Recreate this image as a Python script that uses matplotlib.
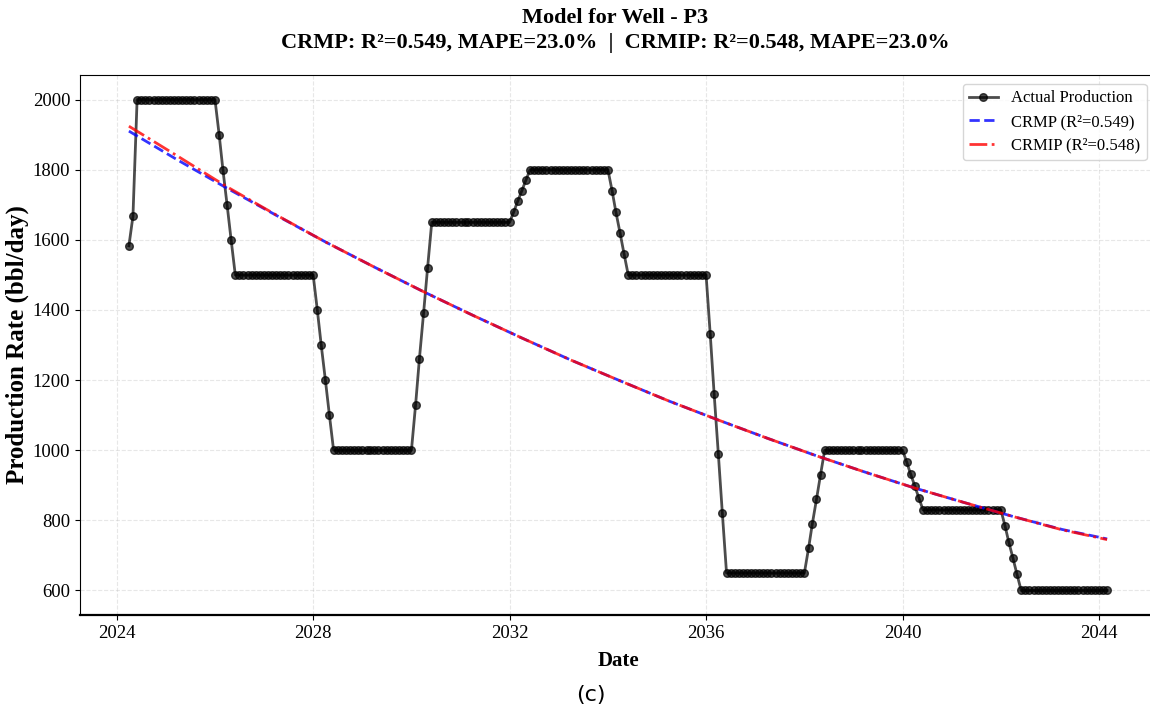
import matplotlib
matplotlib.use('Agg')
import matplotlib.pyplot as plt
import matplotlib.dates as mdates
import pandas as pd

# monthly production for well P3 (bbl/day)
start_date = '2024-03-31'
n_months = 240
actual = ([1583, 1667] + [2000] * 20 + [1900, 1800, 1700, 1600]
          + [1500] * 20 + [1400, 1300, 1200, 1100]
          + [1000] * 20 + [1130, 1260, 1390, 1520]
          + [1650] * 20 + [1680, 1710, 1740, 1770]
          + [1800] * 20 + [1740, 1680, 1620, 1560]
          + [1500] * 20 + [1330, 1160, 990, 820]
          + [650] * 20 + [720, 790, 860, 930]
          + [1000] * 20 + [966, 932, 898, 864]
          + [830] * 20 + [784, 738, 692, 646]
          + [600] * 22)

# model fits, sampled yearly (month index -> rate)
model_idx = [0, 12, 24, 36, 48, 60, 72, 84, 96, 108, 120,
             132, 144, 156, 168, 180, 192, 204, 216, 228, 239]
crmp = [1910, 1827, 1747, 1670, 1594, 1522, 1452, 1385, 1320, 1257, 1198,
        1140, 1086, 1034, 984, 937, 892, 851, 811, 774, 747]
crmip = [1924, 1838, 1751, 1671, 1594, 1522, 1452, 1385, 1320, 1257, 1198,
         1140, 1086, 1034, 984, 937, 892, 851, 811, 773, 745]

crmp_r2, crmip_r2 = 0.549, 0.548
crmp_mape, crmip_mape = 23.0, 23.0

dates = pd.date_range(start_date, periods=n_months, freq='ME')
model_dates = dates[model_idx]

SERIF = 'Liberation Serif'

fig = plt.figure(figsize=(11.5, 7.11), dpi=100)
ax = fig.add_axes([80 / 1150, 1 - 615 / 711, 1076 / 1150, 540 / 711])

ax.plot(dates, actual, 'k-', marker='o', markersize=5.5, linewidth=2,
        alpha=0.7, label='Actual Production')
ax.plot(model_dates, crmp, color='blue', linestyle='--', linewidth=2,
        alpha=0.8, label='CRMP (R²=%.3f)' % crmp_r2)
ax.plot(model_dates, crmip, color='red', linestyle='-.', linewidth=2,
        alpha=0.8, label='CRMIP (R²=%.3f)' % crmip_r2)

ax.xaxis.set_major_locator(mdates.YearLocator(4))
ax.xaxis.set_major_formatter(mdates.DateFormatter('%Y'))
ax.grid(True, linestyle='--', alpha=0.3)
for lbl in ax.get_xticklabels() + ax.get_yticklabels():
    lbl.set_fontfamily(SERIF)
    lbl.set_fontsize(13.5)
ax.spines['bottom'].set_linewidth(1.6)

ax.set_xlabel('Date', fontsize=15, fontweight='bold', family=SERIF,
              labelpad=7)
ax.set_ylabel('Production Rate (bbl/day)', fontsize=18, fontweight='bold',
              family=SERIF, labelpad=3)

fig.text(615 / 1150, 1 - 18 / 711, 'Model for Well - P3', ha='center',
         va='center', fontsize=16, fontweight='bold', family=SERIF)
fig.text(615 / 1150, 1 - 43 / 711,
         'CRMP: R²=%.3f, MAPE=%.1f%%  |  CRMIP: R²=%.3f, MAPE=%.1f%%'
         % (crmp_r2, crmp_mape, crmip_r2, crmip_mape),
         ha='center', va='center', fontsize=16, fontweight='bold',
         family=SERIF)

leg = ax.legend(loc='upper right', bbox_to_anchor=(1070 / 1076, 0.99),
                prop={'family': SERIF, 'size': 12}, labelspacing=0.45,
                handlelength=1.7, borderaxespad=0.2)

fig.text(591 / 1150, 1 - 695 / 711, '(c)', ha='center', va='center',
         fontsize=16, family='DejaVu Sans')

fig.savefig('out.png', dpi=100)
plt.close('all')
